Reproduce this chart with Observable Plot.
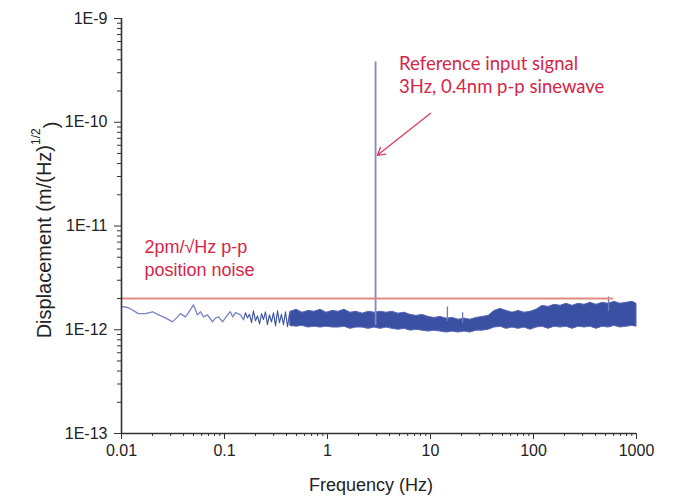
<!DOCTYPE html>
<html>
<head>
<meta charset="utf-8">
<script src="https://cdn.jsdelivr.net/npm/d3@7"></script>
<script src="https://cdn.jsdelivr.net/npm/@observablehq/plot@0.6"></script>
<style>
  html, body { margin: 0; padding: 0; background: #fff; }
  #chart { width: 676px; height: 498px; }
</style>
</head>
<body>
<div id="chart"></div>
<script>
// ---- axes ----
const xDomain = [0.01, 1000];
const yDomain = [1e-13, 1e-9];
const xTicks = [0.01, 0.1, 1, 10, 100, 1000];
const xTickLabels = ["0.01", "0.1", "1", "10", "100", "1000"];
const yTicks = [1e-13, 1e-12, 1e-11, 1e-10, 1e-9];
const yTickLabels = ["1E-13", "1E-12", "1E-11", "1E-10", "1E-9"];
const xLabel = "Frequency (Hz)";
const yLabelMain = "Displacement (m/(Hz)";
const yLabelSup = "1/2";

// ---- low-frequency trace (Hz, m/sqrt(Hz)) ----
const lowFreq = [0.0102,0.0117,0.0146,0.0171,0.0200,0.0229,0.0267,0.0313,0.0350,0.0374,0.0418,0.0447,0.0500,0.0547,0.0585,0.0625,0.0684,0.0764,0.0818,0.0875,0.0957,0.107,0.114,0.120,0.128,0.143,0.153];
const lowVal = [1.67e-12,1.63e-12,1.43e-12,1.43e-12,1.49e-12,1.39e-12,1.30e-12,1.19e-12,1.33e-12,1.43e-12,1.33e-12,1.46e-12,1.74e-12,1.39e-12,1.49e-12,1.33e-12,1.39e-12,1.19e-12,1.30e-12,1.33e-12,1.19e-12,1.39e-12,1.49e-12,1.33e-12,1.46e-12,1.39e-12,1.25e-12];

// ---- transition (denser wiggles) ----
const zigFreq = [0.153,0.160,0.167,0.175,0.183,0.191,0.200,0.209,0.219,0.229,0.239,0.250,0.261,0.273,0.286,0.299,0.313,0.327,0.342,0.357,0.374,0.391,0.409,0.428,0.447];
const zigVal = [1.25e-12,1.46e-12,1.30e-12,1.41e-12,1.17e-12,1.52e-12,1.22e-12,1.36e-12,1.14e-12,1.43e-12,1.25e-12,1.49e-12,1.12e-12,1.39e-12,1.19e-12,1.46e-12,1.09e-12,1.52e-12,1.17e-12,1.41e-12,1.12e-12,1.49e-12,1.07e-12,1.43e-12,1.09e-12];

// ---- dense noise band envelope ----
const bandFreq = [0.438,0.500,0.571,0.654,0.748,0.855,0.977,1.12,1.28,1.46,1.67,1.91,2.19,2.50,2.86,3.27,3.74,4.28,4.89,5.60,6.40,7.31,8.36,9.57,10.9,12.5,14.3,16.4,18.7,21.4,24.4,28.0,32.0,36.6,41.8,47.8,54.7,62.5,71.5,81.8,93.5,107,122,140,160,183,209,239,274,313,357,409,468,535,611,699,800,914,1000];
const bandHi = [1.49,1.56,1.46,1.52,1.49,1.56,1.46,1.52,1.49,1.56,
  1.46,1.49,1.43,1.49,1.46,1.49,1.46,1.49,1.43,1.46,
  1.39,1.36,1.39,1.33,1.30,1.33,1.28,1.30,1.25,1.28,
  1.25,1.30,1.33,1.36,1.52,1.59,1.52,1.46,1.52,1.46,
  1.49,1.56,1.70,1.66,1.74,1.70,1.78,1.70,1.78,1.74,
  1.82,1.74,1.82,1.78,1.86,1.78,1.82,1.86,1.78].map(v => v * 1e-12);
const bandLo = [1.09,1.07,1.09,1.05,1.07,1.05,1.07,1.05,1.05,1.07,
  1.02,1.05,1.05,1.02,1.05,1.02,1.05,1.02,1.00,1.02,
  0.98,1.00,0.98,0.96,0.98,0.96,0.94,0.96,0.94,0.96,
  0.94,0.98,0.98,1.00,1.05,1.07,1.02,1.05,1.02,1.05,
  1.00,1.05,1.07,1.02,1.07,1.05,1.07,1.02,1.07,1.05,
  1.07,1.02,1.07,1.05,1.09,1.05,1.07,1.09,1.07].map(v => v * 1e-12);

// ---- spikes ----
const mainSpikeFreq = [2.93];
const mainSpikeTop = [3.8e-10];
const mainSpikeBase = [1.1e-12];
const smallSpikeFreq = [14.6, 20.5, 535];
const smallSpikeTop = [1.66e-12, 1.46e-12, 2.07e-12];
const smallSpikeBase = [1.2e-12, 1.15e-12, 1.5e-12];

// ---- noise level reference line ----
const noiseLevel = 2e-12;
const noiseLineFreq = [0.01, 600];

// ---- annotations ----
const annotText = ["Reference input signal", "3Hz, 0.4nm p-p sinewave", "2pm/\u221AHz p-p", "position noise"];
const annotX = [4.95, 4.95, 0.0167, 0.0167];
const annotY = [3.6e-10, 2.17e-10, 6.21e-12, 3.78e-12];
const arrowFrom = {x: 10, y: 1.22e-10};
const arrowTo = {x: 3.05, y: 4.8e-11};

// ---- build tables ----
const lowData = lowFreq.map((f, i) => ({f, v: lowVal[i]}));
const zigData = zigFreq.map((f, i) => ({f, v: zigVal[i]}));
const bandData = bandFreq.map((f, i) => ({f, lo: bandLo[i], hi: bandHi[i]}));
const mainSpike = mainSpikeFreq.map((f, i) => ({f, top: mainSpikeTop[i], base: mainSpikeBase[i]}));
const smallSpikes = smallSpikeFreq.map((f, i) => ({f, top: smallSpikeTop[i], base: smallSpikeBase[i]}));
const annRight = annotText.slice(0, 2).map((t, i) => ({t, x: annotX[i], y: annotY[i]}));
const annLeft = annotText.slice(2).map((t, i) => ({t, x: annotX[i + 2], y: annotY[i + 2]}));

const minorY = [];
for (let e = -13; e < -9; e++) for (let m = 2; m <= 9; m++) minorY.push(m * Math.pow(10, e));
const minorX = [];
for (let e = -2; e < 3; e++) for (let m = 2; m <= 9; m++) minorX.push(m * Math.pow(10, e));
const xFmt = new Map(xTicks.map((d, i) => [d, xTickLabels[i]]));
const yFmt = new Map(yTicks.map((d, i) => [d, yTickLabels[i]]));

const red = "#d62648";
const blue = "#3a50a3";
const axisFont = "'Liberation Sans', Arial, Helvetica, sans-serif";

const chart = Plot.plot({
  width: 676,
  height: 498,
  marginLeft: 121,
  marginRight: 40,
  marginTop: 18,
  marginBottom: 65,
  style: {fontFamily: axisFont, fontSize: "16px", color: "#222", background: "#fff"},
  x: {type: "log", domain: xDomain},
  y: {type: "log", domain: yDomain},
  marks: [
    // noise band
    Plot.areaY(bandData, {x: "f", y1: "lo", y2: "hi", fill: blue, stroke: "#5566b2", strokeWidth: 1, curve: "linear"}),
    Plot.line(zigData, {x: "f", y: "v", stroke: blue, strokeWidth: 1.1}),
    Plot.line(lowData, {x: "f", y: "v", stroke: "#7882c6", strokeWidth: 1.3}),
    Plot.ruleX(smallSpikes, {x: "f", y1: "base", y2: "top", stroke: "#6f79bd", strokeWidth: 1.3}),
    Plot.ruleX(mainSpike, {x: "f", y1: "base", y2: "top", stroke: "#8288c8", strokeWidth: 1.8}),
    // reference noise level
    Plot.ruleY([noiseLevel], {x1: noiseLineFreq[0], x2: noiseLineFreq[1], stroke: "#e08a84", strokeWidth: 2.2}),
    // arrow
    Plot.arrow([{x1: arrowFrom.x, y1: arrowFrom.y, x2: arrowTo.x, y2: arrowTo.y}], {x1: "x1", y1: "y1", x2: "x2", y2: "y2", stroke: "#d9435c", strokeWidth: 1.4, headLength: 9, bend: 0}),
    // annotations
    Plot.text(annRight, {x: "x", y: "y", text: "t", textAnchor: "start", fill: red, fontSize: 18.5, fontFamily: "Lato, 'Open Sans', sans-serif"}),
    Plot.text(annLeft, {x: "x", y: "y", text: "t", textAnchor: "start", fill: red, fontSize: 18, fontFamily: axisFont}),
    // axes
    Plot.axisY(yTicks, {tickSize: 7, tickPadding: 7, tickFormat: d => yFmt.get(d), fontSize: 16, fill: "#222", label: null, stroke: "#333"}),
    Plot.axisY(minorY, {tickSize: 4, tickFormat: () => "", label: null, stroke: "#333"}),
    Plot.axisX(xTicks, {tickSize: 6, tickPadding: 5, tickFormat: d => xFmt.get(d), fontSize: 16, fill: "#222", label: null, stroke: "#333"}),
    Plot.axisX(minorX, {tickSize: 3, tickFormat: () => "", label: null, stroke: "#333"}),
    Plot.ruleX([xDomain[0]], {stroke: "#333", strokeWidth: 1.6}),
    Plot.ruleY([yDomain[0]], {stroke: "#333", strokeWidth: 1.6})
  ]
});

// axis titles
const svg = d3.select(chart);
svg.append("text")
  .attr("x", 371).attr("y", 491)
  .attr("text-anchor", "middle")
  .attr("font-size", 18)
  .attr("fill", "#222")
  .attr("font-family", axisFont)
  .text(xLabel);
const yl = svg.append("text")
  .attr("transform", "translate(51,230) rotate(-90)")
  .attr("text-anchor", "middle")
  .attr("font-size", 20)
  .attr("fill", "#222")
  .attr("font-family", axisFont);
yl.append("tspan").text(yLabelMain);
yl.append("tspan").attr("font-size", 12).attr("dy", "-0.9em").text(yLabelSup);
yl.append("tspan").attr("dy", "0.9em").text(")");

document.getElementById("chart").appendChild(chart);
</script>
</body>
</html>
